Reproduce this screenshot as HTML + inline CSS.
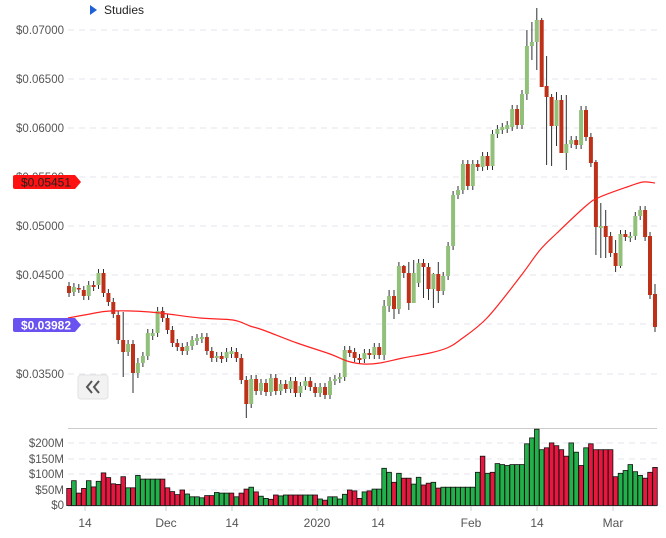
<!DOCTYPE html>
<html><head><meta charset="utf-8"><style>
body{margin:0;background:#fff;width:666px;height:538px;overflow:hidden;font-family:"Liberation Sans",sans-serif}
svg{position:absolute;left:0;top:0}
</style></head><body>
<svg id="s" width="666" height="538" xmlns="http://www.w3.org/2000/svg"></svg>
<script>
const C=[[286,293],[292,287],[288,289],[290,296],[296,285],[285,287],[285,273],[273,293],[293,302],[302,314],[315,340],[340,352],[352,344],[344,373],[373,363],[363,356],[356,333],[336,333],[333,311],[311,318],[318,330],[330,343],[343,347],[347,351],[351,346],[346,340],[341,338],[339,337],[337,351],[351,358],[358,356],[356,359],[358,352],[354,351],[352,358],
[358,380],[380,404],[404,379],[379,391],[391,383],[383,392],[392,378],[378,391],[391,384],[384,389],[389,381],[381,393],[393,386],[386,381],[381,387],[387,393],[393,387],[387,395],[395,381],[381,379],[379,377],[377,350],[350,353],[352,358],[358,360],[359,353],[353,355],[355,347],[347,355],[355,306],[306,296],[296,309],[309,266],[266,273],[273,303],[303,273],[283,263],[263,267],[267,289],[289,274],[274,291],[291,276],[276,246],
[246,195],[195,190],[190,164],[164,186],[186,164],[164,167],[167,156],[156,166],[166,134],[134,129],[130,127],[129,125],[127,109],[109,125],[125,94],[94,46],[46,42],[42,20],[20,87],[86,97],[97,126],[126,100],[100,153],[153,144],[144,140],[140,145],[145,110],[110,137],[137,163],[162,227],[228,226],[226,237],[236,253],[253,266],[266,234],[234,237],[238,236],[236,216],[216,210],[210,237],[236,295],[294,327]];
const WO={11:[312,377],13:[340,393],36:[376,418],14:[358,378],93:[30,100],94:[22,60],95:[8,70],96:[18,58],97:[56,165],98:[94,166],99:[92,146],100:[95,151],101:[95,170],107:[160,255],108:[203,258],109:[210,258],111:[240,272],112:[230,268],119:[284,332],64:[300,360],65:[290,312],66:[290,319],67:[262,314],68:[265,278],69:[262,310],70:[260,298],72:[259,298],73:[263,300],74:[273,308],75:[262,303]};
const V=[[55,'r'],[80,'g'],[40,'r'],[55,'r'],[80,'g'],[60,'r'],[78,'g'],[105,'r'],[90,'r'],[70,'r'],[68,'r'],[93,'r'],[57,'g'],[57,'r'],[97,'g'],[85,'g'],[85,'g'],[85,'g'],[85,'g'],[85,'r'],[57,'r'],[45,'r'],[35,'r'],[50,'r'],[37,'g'],[28,'g'],[28,'g'],[25,'g'],[32,'r'],[32,'r'],[42,'g'],[40,'g'],[40,'g'],
[40,'r'],[28,'g'],[40,'r'],[53,'r'],[59,'g'],[44,'r'],[30,'g'],[23,'g'],[20,'r'],[34,'r'],[31,'g'],[34,'g'],[34,'r'],[34,'r'],[34,'r'],[34,'g'],[34,'g'],[34,'r'],[21,'g'],[17,'r'],[28,'g'],[28,'g'],[21,'g'],[36,'g'],[50,'r'],[47,'r'],[23,'r'],[44,'g'],[47,'r'],[53,'g'],[53,'g'],[120,'g'],[107,'g'],[75,'r'],[104,'g'],[88,'r'],[88,'r'],[69,'g'],[91,'g'],[66,'r'],[72,'r'],[75,'g'],[56,'r'],[59,'g'],[59,'g'],[59,'g'],[59,'g'],[59,'g'],[59,'g'],[59,'g'],[107,'g'],[159,'r'],[104,'g'],[107,'r'],[135,'g'],[132,'g'],[129,'g'],[132,'g'],[132,'g'],[132,'g'],[199,'g'],[218,'g'],[246,'g'],[180,'g'],[186,'r'],[202,'r'],[193,'r'],[180,'r'],[159,'r'],[202,'g'],[172,'g'],[129,'r'],[186,'g'],[199,'r'],[180,'r'],[180,'r'],[180,'r'],[180,'r'],[93,'r'],[104,'g'],[113,'g'],[132,'g'],[109,'g'],[97,'g'],[88,'r'],[107,'r'],[123,'r']];
let h='';
const X=i=>69+i*4.924;
[30,79,128,177,226,275,324,374].forEach(y=>h+=`<line x1="68" x2="657" y1="${y}" y2="${y}" stroke="#e4e4ec" stroke-dasharray="6,5"/>`);
[443,459,474,490].forEach(y=>h+=`<line x1="68" x2="657" y1="${y}" y2="${y}" stroke="#e4e4ec" stroke-dasharray="6,5"/>`);
h+=`<line x1="68" x2="657" y1="428.5" y2="428.5" stroke="#ccc"/>`;
const lab=(y,t)=>h+=`<text x="64" y="${y+4}" text-anchor="end" font-size="11.5" fill="#555">${t}</text>`;
[[30,'$0.07000'],[79,'$0.06500'],[128,'$0.06000'],[177,'$0.05500'],[226,'$0.05000'],[275,'$0.04500'],[374,'$0.03500']].forEach(a=>lab(a[0],a[1]));
[[443,'$200M'],[459,'$150M'],[474,'$100M'],[490,'$50M'],[505,'$0']].forEach(a=>lab(a[0],a[1]));
[[85,'14'],[166,'Dec'],[232,'14'],[317,'2020'],[378,'14'],[471,'Feb'],[537,'14'],[613,'Mar']].forEach(a=>{h+=`<text x="${a[0]}" y="527" text-anchor="middle" font-size="12" fill="#555">${a[1]}</text><line x1="${a[0]}" x2="${a[0]}" y1="506" y2="511" stroke="#ccc"/>`});
h+=`<line x1="68" x2="657" y1="506" y2="506" stroke="#ccc"/>`;
V.slice(0,120).forEach((v,i)=>{const ht=v[0]*0.31;h+=`<rect x="${(X(i)-2.3).toFixed(1)}" y="${(505.5-ht).toFixed(1)}" width="4.6" height="${ht.toFixed(1)}" fill="${v[1]=='g'?'#22b04a':'#e8173f'}" stroke="#111" stroke-width="0.8"/>`});
C.forEach((c,i)=>{const [o,cl]=c;const up=cl<o;const t=Math.min(o,cl),b=Math.max(o,cl);const w=WO[i]||[t-4,b+4];const x=X(i);
h+=`<line x1="${x.toFixed(1)}" x2="${x.toFixed(1)}" y1="${w[0]}" y2="${w[1]}" stroke="#2b2f33" stroke-width="1"/>`;
h+=`<rect x="${(x-2).toFixed(1)}" y="${t}" width="4" height="${Math.max(b-t,1.5)}" fill="${up?'#90c07a':'#bd3119'}"/>`});
// smooth MA
const P=[[68,318],[90,314],[110,311],[150,312],[200,318],[233,320],[250,326],[263,330],[297,343],[330,354],[347,361],[363,364],[380,363],[403,358],[430,353],[447,348],[460,340],[487,318],[520,277],[540,250],[557,233],[587,205],[600,197],[627,187],[643,182],[655,183]];
let d=`M${P[0][0]},${P[0][1]}`;
for(let i=0;i<P.length-1;i++){const p0=P[Math.max(i-1,0)],p1=P[i],p2=P[i+1],p3=P[Math.min(i+2,P.length-1)];
d+=` C${(p1[0]+(p2[0]-p0[0])/6).toFixed(1)},${(p1[1]+(p2[1]-p0[1])/6).toFixed(1)} ${(p2[0]-(p3[0]-p1[0])/6).toFixed(1)},${(p2[1]-(p3[1]-p1[1])/6).toFixed(1)} ${p2[0]},${p2[1]}`;}
h+=`<path fill="none" stroke="#f22" stroke-width="1.2" d="${d}"/>`;
h+=`<path d="M15,175 H75 L81,182 L75,189 H15 Q13,189 13,187 V177 Q13,175 15,175Z" fill="#ff1111"/><text x="46" y="186.5" text-anchor="middle" font-size="12" fill="#222">$0.05451</text>`;
h+=`<path d="M15,318 H75 L81,325 L75,332 H15 Q13,332 13,330 V320 Q13,318 15,318Z" fill="#6a52f0"/><text x="46" y="329.5" text-anchor="middle" font-size="12" font-weight="bold" fill="#fff">$0.03982</text>`;
h+=`<path d="M90,5 L97,10 L90,15Z" fill="#2060d8"/><text x="104" y="14" font-size="12" fill="#222">Studies</text>`;
h+=`<rect x="78" y="375" width="30" height="24" rx="3" fill="#f2f2f2" stroke="#e2e2e2"/><path d="M92,381 L87,387 L92,393 M99,381 L94,387 L99,393" fill="none" stroke="#555" stroke-width="2"/>`;
document.getElementById('s').innerHTML=h;
</script>
</body></html>
